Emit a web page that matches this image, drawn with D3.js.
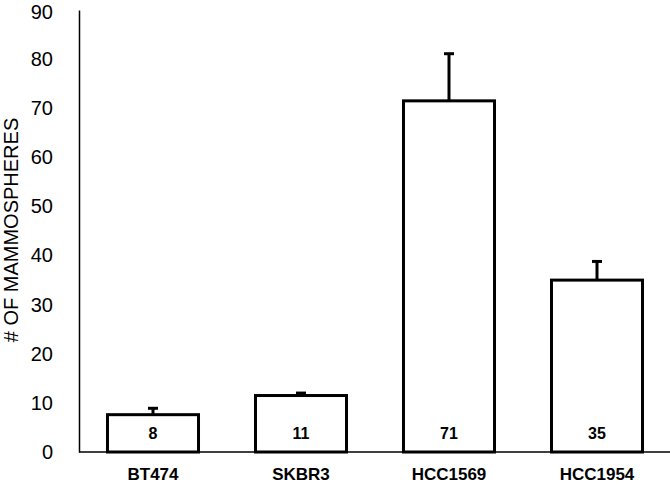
<!DOCTYPE html>
<html><head><meta charset="utf-8">
<script src="https://cdn.jsdelivr.net/npm/d3@7"></script>
<style>body{margin:0;background:#fff}</style>
</head><body><svg id="c" width="670" height="486"></svg>
<script>
const categories = ["BT474", "SKBR3", "HCC1569", "HCC1954"];
const values = [7.6, 11.5, 71.5, 35.0];
const errors = [1.3, 0.5, 9.6, 3.8];
const valueLabels = ["8", "11", "71", "35"];
const yTicks = [0, 10, 20, 30, 40, 50, 60, 70, 80, 90];
const yTitle = "# OF MAMMOSPHERES";

const svg = d3.select("#c");
const y = d3.scaleLinear().domain([0, 90]).range([452, 10]);
const x = d3.scaleBand().domain(categories).range([79, 671]).paddingInner(0.385).paddingOuter(0.1925);
const font = "'Liberation Sans', Arial, sans-serif";

const yAxis = svg.append("g").attr("transform", "translate(79,0)")
  .call(d3.axisLeft(y).tickValues(yTicks).tickSize(0).tickPadding(26));
yAxis.select(".domain").attr("stroke", "#000").attr("stroke-width", 1.5);
yAxis.selectAll("text").attr("font-family", font).attr("font-size", 20).attr("fill", "#000");
yAxis.selectAll(".tick").filter(d => d === 90).select("text").attr("dy", "0.4em");

svg.append("text").attr("transform", "translate(18,230) rotate(-90)")
  .attr("text-anchor", "middle").attr("font-family", font).attr("font-size", 20)
  .attr("fill", "#000").text(yTitle);

// error bars
const g = svg.append("g");
categories.forEach((c, i) => {
  const cx = x(c) + x.bandwidth() / 2;
  g.append("line").attr("x1", cx).attr("x2", cx).attr("y1", y(values[i])).attr("y2", y(values[i] + errors[i]))
    .attr("stroke", "#000").attr("stroke-width", 3);
  g.append("line").attr("x1", cx - 5).attr("x2", cx + 5).attr("y1", y(values[i] + errors[i])).attr("y2", y(values[i] + errors[i]))
    .attr("stroke", "#000").attr("stroke-width", 3);
});

svg.append("g").selectAll("rect").data(categories).join("rect")
  .attr("x", d => x(d)).attr("width", x.bandwidth())
  .attr("y", (d, i) => y(values[i])).attr("height", (d, i) => y(0) - y(values[i]))
  .attr("fill", "#fff").attr("stroke", "#000").attr("stroke-width", 3);

const xAxis = svg.append("g").attr("transform", "translate(0,452)")
  .call(d3.axisBottom(x).tickSize(0).tickPadding(16));
xAxis.select(".domain").attr("d", "M79,0H670").attr("stroke", "#000").attr("stroke-width", 1.5);
xAxis.selectAll("text").attr("font-family", font).attr("font-size", 17).attr("font-weight", "bold").attr("fill", "#000");

svg.append("g").selectAll("text").data(categories).join("text")
  .attr("x", d => x(d) + x.bandwidth() / 2).attr("y", 439)
  .attr("text-anchor", "middle").attr("font-family", font).attr("font-size", 16).attr("font-weight", "bold")
  .text((d, i) => valueLabels[i]);
</script></body></html>
